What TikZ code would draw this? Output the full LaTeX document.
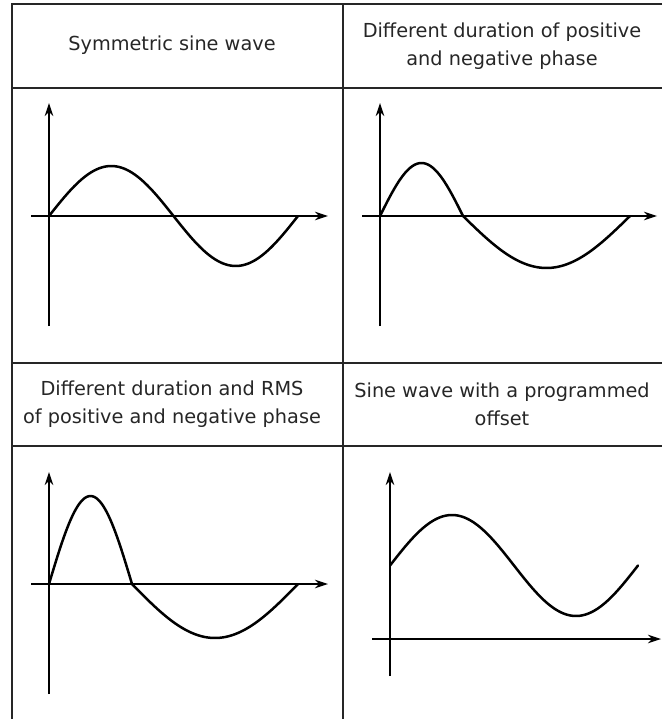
\documentclass[tikz,border=0pt]{standalone}
\usepackage{fontspec}
\setmainfont{DejaVu Sans}
\usetikzlibrary{arrows.meta}
\begin{document}
\begin{tikzpicture}[x=1pt,y=-1pt,
  grid/.style={line width=1.4pt,draw=black!85},
  axis/.style={line width=1.2pt,-{Stealth[length=13pt,width=8.5pt]}},
  wave/.style={line width=2.5pt,line join=round,line cap=round},
  head/.style={align=center,font=\fontsize{19.3pt}{28pt}\selectfont,text=black!85,inner sep=0pt}]
\useasboundingbox (0,0) rectangle (662,719);
% table
\draw[grid] (662,4) -- (12,4) -- (12,719);
\draw[grid] (343,4) -- (343,719);
\draw[grid] (12,88) -- (662,88);
\draw[grid] (12,363) -- (662,363);
\draw[grid] (12,446) -- (662,446);
% headers
\node[head] (h1) at (172,45) {Symmetric sine wave};
\node[head] (h2) at (502,46) {Different duration of positive\\and negative phase};
\node[head] (h3) at (172,404) {Different duration and RMS\\of positive and negative phase};
\node[head] (h4) at (502,404) {Sine wave with a programmed\\offset};
% panel 1
\coordinate (a1b) at (49,326); \coordinate (a1t) at (49,103);
\coordinate (a1l) at (31,216); \coordinate (a1r) at (328,216);
\draw[axis] (a1b) -- (a1t);
\draw[axis] (a1l) -- (a1r);
\draw[wave] plot[domain=0:249,samples=100,smooth] ({49+\x},{216-50*sin(\x/249*360)});
% panel 2
\coordinate (a2b) at (380,326); \coordinate (a2t) at (380,103);
\coordinate (a2l) at (362,216); \coordinate (a2r) at (657,216);
\draw[axis] (a2b) -- (a2t);
\draw[axis] (a2l) -- (a2r);
\draw[wave] plot[domain=0:83,samples=50,smooth] ({380+\x},{216-53*sin(\x/83*180)})
  -- plot[domain=0:167,samples=70,smooth] ({463+\x},{216+52*sin(\x/167*180)});
% panel 3
\coordinate (a3b) at (49,694); \coordinate (a3t) at (49,472);
\coordinate (a3l) at (31,584); \coordinate (a3r) at (328,584);
\draw[axis] (a3b) -- (a3t);
\draw[axis] (a3l) -- (a3r);
\draw[wave] plot[domain=0:83,samples=50,smooth] ({49+\x},{584-88*sin(\x/83*180)})
  -- plot[domain=0:166,samples=70,smooth] ({132+\x},{584+54*sin(\x/166*180)});
% panel 4
\coordinate (a4b) at (390,676); \coordinate (a4t) at (390,472);
\coordinate (a4l) at (372,639); \coordinate (a4r) at (661,639);
\draw[axis] (a4b) -- (a4t);
\draw[axis] (a4l) -- (a4r);
\draw[wave] plot[domain=0:248,samples=100,smooth] ({390+\x},{565.5-50.5*sin(\x/248*360)});
\end{tikzpicture}
\end{document}
